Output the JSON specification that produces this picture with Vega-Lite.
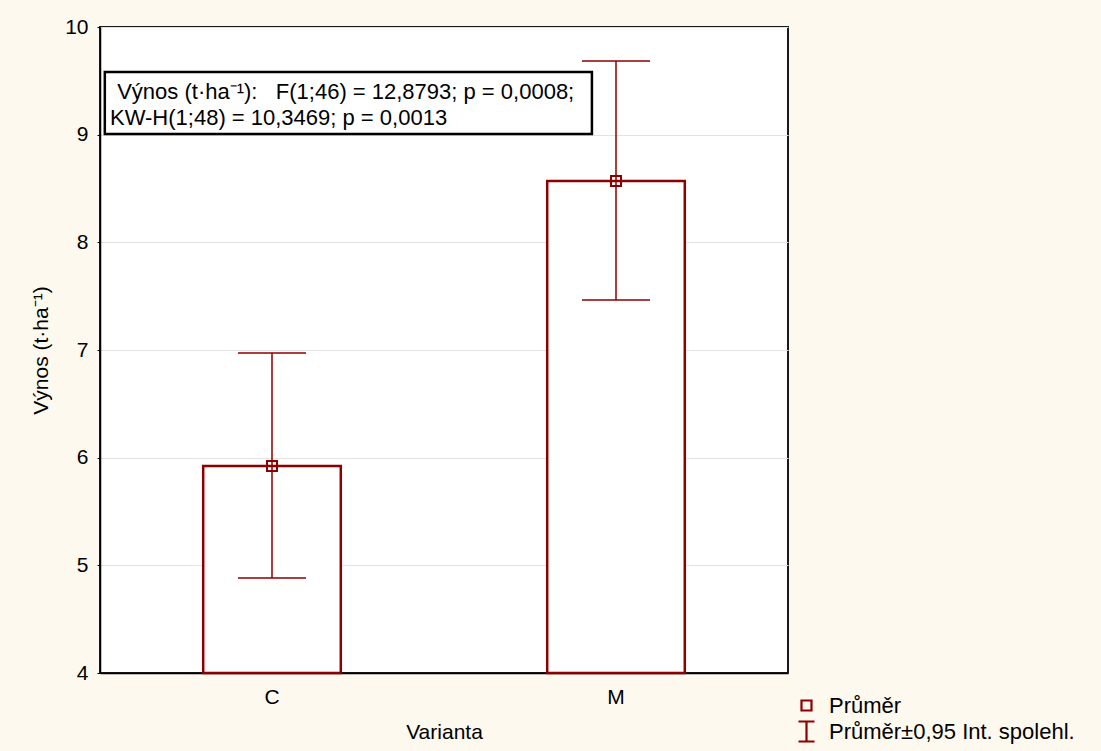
{
  "$schema": "https://vega.github.io/schema/vega-lite/v6.json",
  "width": 688,
  "height": 646,
  "autosize": {"type": "none"},
  "padding": {"left": 100, "top": 27, "right": 313, "bottom": 78},
  "background": "#FEF9EF",
  "config": {
    "font": "Liberation Sans",
    "view": {"fill": "#FFFFFF", "stroke": "#1a1a1a", "strokeWidth": 2},
    "axis": {
      "labelFont": "Liberation Sans",
      "titleFont": "Liberation Sans",
      "labelFontSize": 21,
      "titleFontSize": 21,
      "labelColor": "#000000",
      "titleColor": "#000000",
      "titleFontWeight": "normal",
      "domainColor": "#000000",
      "domainWidth": 1.5,
      "tickColor": "#000000",
      "gridColor": "#E2E2E2",
      "gridWidth": 1
    }
  },
  "datasets": {
    "stats": [
      {"Varianta": "C", "mean": 5.923, "lo": 4.882, "hi": 6.972},
      {"Varianta": "M", "mean": 8.57, "lo": 7.464, "hi": 9.684}
    ],
    "note": [
      {"line1": "Výnos (t·ha⁻¹):\u00a0\u00a0\u00a0F(1;46) = 12,8793; p = 0,0008;", "line2": "KW-H(1;48) = 10,3469; p = 0,0013"}
    ]
  },
  "layer": [
    {
      "data": {"name": "stats"},
      "layer": [
        {
          "mark": {"type": "bar", "fill": "#FFFFFF", "stroke": "#8B0000", "strokeWidth": 2.5},
          "encoding": {
            "x": {
              "field": "Varianta",
              "type": "nominal",
              "scale": {"paddingInner": 0.6, "paddingOuter": 0.3},
              "axis": {"title": "Varianta", "labelAngle": 0, "ticks": false, "labelPadding": 13, "titlePadding": 14, "grid": false, "labelFontSize": 21, "titleFontSize": 21, "labelFont": "Liberation Sans", "titleFont": "Liberation Sans"}
            },
            "y": {
              "field": "mean",
              "type": "quantitative",
              "scale": {"domain": [4, 10], "zero": false, "nice": false},
              "axis": {"title": "Výnos (t·ha⁻¹)", "values": [4, 5, 6, 7, 8, 9, 10], "format": "d", "tickSize": 3, "labelPadding": 9, "titlePadding": 13, "grid": true, "labelFontSize": 21, "titleFontSize": 21, "labelFont": "Liberation Sans", "titleFont": "Liberation Sans"}
            },
            "y2": {"datum": 4}
          }
        },
        {
          "mark": {"type": "rule", "color": "#8B0000", "strokeWidth": 1.5},
          "encoding": {
            "x": {"field": "Varianta", "type": "nominal"},
            "y": {"field": "lo", "type": "quantitative"},
            "y2": {"field": "hi"}
          }
        },
        {
          "mark": {"type": "tick", "color": "#8B0000", "size": 68, "thickness": 1.5, "orient": "horizontal", "opacity": 1},
          "encoding": {
            "x": {"field": "Varianta", "type": "nominal"},
            "y": {"field": "lo", "type": "quantitative"}
          }
        },
        {
          "mark": {"type": "tick", "color": "#8B0000", "size": 68, "thickness": 1.5, "orient": "horizontal", "opacity": 1},
          "encoding": {
            "x": {"field": "Varianta", "type": "nominal"},
            "y": {"field": "hi", "type": "quantitative"}
          }
        },
        {
          "mark": {"type": "point", "filled": false, "color": "#8B0000", "strokeWidth": 2, "size": 400, "opacity": 1},
          "encoding": {
            "x": {"field": "Varianta", "type": "nominal"},
            "y": {"field": "mean", "type": "quantitative"},
            "shape": {
              "datum": "Průměr",
              "type": "nominal",
              "scale": {
                "domain": ["Průměr", "Průměr±0,95 Int. spolehl."],
                "range": ["M-0.5,-0.5H0.5V0.5H-0.5Z", "M-0.8,-1H0.8M0,-1V1M-0.8,1H0.8"]
              },
              "legend": {
                "title": null,
                "orient": "none",
                "legendX": 695,
                "legendY": 667,
                "padding": 0,
                "labelFont": "Liberation Sans",
                "labelFontSize": 22,
                "labelLimit": 400,
                "labelColor": "#000000",
                "symbolStrokeColor": "#8B0000",
                "symbolFillColor": "transparent",
                "symbolStrokeWidth": 2.2,
                "symbolSize": 400,
                "labelOffset": 11,
                "rowPadding": 0
              }
            }
          }
        }
      ]
    },
    {
      "data": {"name": "note"},
      "layer": [
        {
          "mark": {"type": "rect", "fill": "#FFFFFF", "stroke": "#000000", "strokeWidth": 2.5},
          "encoding": {
            "x": {"datum": 0.007, "type": "quantitative", "scale": {"domain": [0, 1], "nice": false, "zero": false}, "axis": null},
            "x2": {"datum": 0.715},
            "y": {"datum": 9.582, "type": "quantitative"},
            "y2": {"datum": 9.006}
          }
        },
        {
          "mark": {
            "type": "text",
            "align": "left",
            "baseline": "alphabetic",
            "font": "Liberation Sans",
            "fontSize": 22,
            "color": "#000000"
          },
          "encoding": {
            "x": {"datum": 0.025, "type": "quantitative", "scale": {"domain": [0, 1], "nice": false, "zero": false}, "axis": null},
            "y": {"datum": 9.327, "type": "quantitative"},
            "text": {"field": "line1"}
          }
        },
        {
          "mark": {
            "type": "text",
            "align": "left",
            "baseline": "alphabetic",
            "font": "Liberation Sans",
            "fontSize": 22,
            "color": "#000000"
          },
          "encoding": {
            "x": {"datum": 0.0145, "type": "quantitative", "scale": {"domain": [0, 1], "nice": false, "zero": false}, "axis": null},
            "y": {"datum": 9.086, "type": "quantitative"},
            "text": {"field": "line2"}
          }
        }
      ]
    }
  ],
  "resolve": {"scale": {"x": "independent"}, "axis": {"x": "independent"}}
}
